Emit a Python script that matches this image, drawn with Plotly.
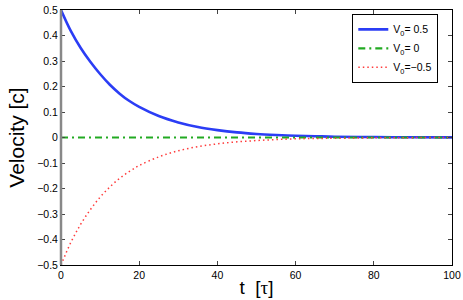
import plotly.graph_objects as go

t_vals = [0, 2.5, 5, 7.5, 10, 12.5, 15, 17.5, 20, 25, 30, 35, 40, 45, 50, 55, 60, 65, 70, 80, 90, 100]
v_pos = [0.5, 0.418, 0.352, 0.297, 0.249, 0.207, 0.172, 0.143, 0.120, 0.084, 0.059, 0.041, 0.029,
         0.020, 0.014, 0.010, 0.007, 0.005, 0.003, 0.0017, 0.0008, 0.0004]
v_zero = [0.0] * len(t_vals)
v_neg = [-0.5, -0.412, -0.341, -0.283, -0.234, -0.194, -0.160, -0.133, -0.110, -0.076, -0.052,
         -0.036, -0.025, -0.017, -0.012, -0.008, -0.005, -0.004, -0.003, -0.0012, -0.0005, -0.0002]

names = ["V<sub>0</sub>= 0.5", "V<sub>0</sub>= 0", "V<sub>0</sub>=\u22120.5"]
x_ticks = [0, 20, 40, 60, 80, 100]
y_ticks = [0.5, 0.4, 0.3, 0.2, 0.1, 0, -0.1, -0.2, -0.3, -0.4, -0.5]
y_labels = ["0.5", "0.4", "0.3", "0.2", "0.1", "0", "\u22120.1", "\u22120.2", "\u22120.3", "\u22120.4", "\u22120.5"]

fig = go.Figure()
fig.add_trace(go.Scatter(x=t_vals, y=v_pos, mode="lines", name=names[0],
                         line=dict(color="#2b3df5", width=2.6, shape="spline")))
fig.add_trace(go.Scatter(x=t_vals, y=v_zero, mode="lines", name=names[1],
                         line=dict(color="#22aa22", width=2.2, dash="7px,4px,2px,4px")))
fig.add_trace(go.Scatter(x=t_vals, y=v_neg, mode="lines", name=names[2],
                         line=dict(color="#ff3b3b", width=1.5, dash="1.5px,3px", shape="spline")))

font = "Liberation Sans, Arial, sans-serif"
fig.update_layout(
    width=463, height=300,
    margin=dict(l=61, r=11, t=10, b=35, autoexpand=False),
    paper_bgcolor="white", plot_bgcolor="white",
    font=dict(family=font, size=10.5, color="black"),
    showlegend=True,
    legend=dict(x=0.745, y=0.985, xanchor="left", yanchor="top",
                bordercolor="black", borderwidth=1, bgcolor="white",
                font=dict(size=10.5), tracegroupgap=0, itemwidth=30),
    xaxis=dict(range=[0, 100], tickvals=x_ticks, ticks="inside", ticklen=4,
               showline=True, linecolor="black", linewidth=1, mirror="ticks",
               showgrid=False, zeroline=False, automargin=False,
               title=dict(text="t\u00a0\u00a0[<span style='font-family:Liberation Serif'>\u03c4</span>]",
                          font=dict(size=19), standoff=1)),
    yaxis=dict(range=[-0.5, 0.5], tickvals=y_ticks, ticktext=y_labels, ticks="inside", ticklen=4,
               showline=True, linecolor="black", linewidth=1, mirror="ticks",
               showgrid=False, zeroline=False, automargin=False,
               title=dict(text="Velocity [c]", font=dict(size=21), standoff=6)),
)
fig.add_shape(type="line", xref="paper", yref="paper", x0=0, x1=0, y0=0, y1=1,
              line=dict(color="#888888", width=2.5), layer="above")

fig.write_html("out.html", config={"displayModeBar": False},
               post_script="document.body.style.margin='0px';document.body.style.overflow='hidden';")
